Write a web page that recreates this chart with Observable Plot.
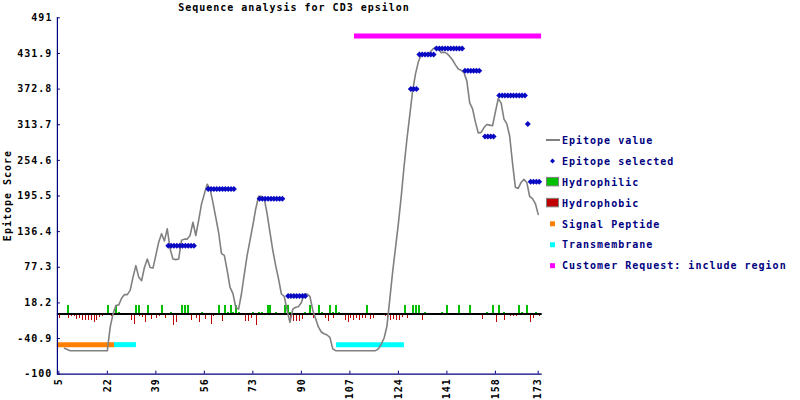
<!DOCTYPE html>
<html><head><meta charset="utf-8">
<script src="https://cdn.jsdelivr.net/npm/d3@7"></script>
<script src="https://cdn.jsdelivr.net/npm/@observablehq/plot@0.6"></script>
<style>
body{margin:0;background:#fff;}
#chart{position:relative;width:800px;height:400px;}
</style></head><body><div id="chart"></div>
<script>
// ---------- data ----------
const titleText = "Sequence analysis for CD3 epsilon";
const yLabelText = "Epitope Score";
const xTicks = [5, 22, 39, 56, 73, 90, 107, 124, 141, 158, 173];
const yTicks = [-100, -40.9, 18.2, 77.3, 136.4, 195.5, 254.6, 313.7, 372.8, 431.9, 491];
const yTickLabels = ["-100", "-40.9", "18.2", "77.3", "136.4", "195.5", "254.6", "313.7", "372.8", "431.9", "491"];

// Epitope value, residues 7..173
const lineFirstResidue = 7;
const epitopeValue = [
  -57, -59, -61, -61, -61, -61, -61, -61, -61, -61,
  -61, -61, -61, -61, -61, -61, -22, 0, 14, 15,
  26, 32, 32, 39, 61, 80, 61, 55, 77, 91,
  77, 76, 97, 119, 133, 121, 141, 108, 91, 90,
  91, 122, 124, 124, 130, 152, 130, 155, 182, 199,
  215, 207, 185, 160, 135, 100, 97, 72, 44, 34,
  11, 8, 33, 66, 97, 122, 147, 174, 195, 195,
  191, 166, 135, 105, 80, 58, 33, 29, 6, -14,
  8, 11, 12, 19, 33, 33, 29, 6, -8, -22,
  -30, -33, -35, -39, -58, -61, -61, -61, -61, -61,
  -61, -61, -61, -61, -61, -61, -61, -61, -61, -61,
  -58, -50, -40, -20, 25, 70, 110, 150, 195, 245,
  290, 330, 370, 398, 418, 430, 431, 431, 433, 439,
  442, 440, 433, 434, 432, 427, 421, 413, 406, 404,
  400, 386, 350, 340, 318, 300, 301, 309, 314, 313,
  312, 335, 357, 350, 323, 315, 295, 250, 210, 208,
  218, 223, 218, 195, 191, 183, 165
];

// Epitope selected runs
const selStart = [43, 57, 75, 85, 128, 131, 137, 147, 154, 159, 169, 170];
const selEnd   = [52, 66, 83, 91, 130, 136, 146, 152, 157, 168, 169, 173];
const selValue = [113, 207, 191, 29.5, 373, 430, 440, 403, 294, 362, 315, 219];

// Hydrophilic (green, up)
const philicRes = [8, 22, 25, 26, 32, 33, 36, 41, 44, 48, 49, 50, 55, 61, 63, 64, 65, 66, 67, 68, 73, 75, 76, 78, 79, 81, 84, 85, 86, 91, 93, 96, 97, 100, 101, 102, 103, 113, 126, 129, 130, 131, 133, 139, 141, 145, 149, 155, 157, 159, 161, 166, 167, 169, 172];
const philicVal = [14, 14, 14, 2, 14, 14, 14, 14, 2, 14, 14, 14, 2, 14, 14, 2, 14, 2, 14, 2, 2, 2, 2, 14, 14, 2, 14, 14, 2, 2, 14, 14, 2, 14, 2, 14, 2, 14, 14, 14, 14, 14, 2, 2, 14, 14, 14, 2, 14, 14, 2, 14, 2, 14, 2];

// Hydrophobic (red, down)
const phobicRes = [5, 8, 9, 10, 11, 12, 13, 14, 15, 16, 17, 18, 19, 20, 23, 26, 27, 28, 29, 30, 31, 33, 34, 35, 37, 39, 40, 42, 45, 46, 51, 53, 54, 56, 58, 59,
  60, 62, 70, 71, 72, 74, 82, 86, 87, 88, 89, 90, 94, 98, 99, 101, 105, 106, 107, 108, 109, 110, 111, 112, 114, 115, 117,
  118, 119, 120, 121, 122, 123, 124, 125, 127, 128, 132, 134, 136, 137, 138, 139, 142, 145, 150, 153, 158, 161, 163, 164, 165, 170, 171, 173];
const phobicVal = [-7, -7, -4, -4, -10, -7, -11, -11, -11, -11, -14, -11, -5.5, -4, -4, -2, -2, -2, -3, -11, -18, -4, -5.5, -14, -9, -8, -4, -8, -19, -14, -11, -8, -14, -9, -17, -4,
  -3, -13, -13, -13, -8, -19, -3, -13, -13, -13, -13, -9, -8, -8, -13, -8, -11, -14, -7, -11, -8, -11, -8, -7, -9, -8, -3,
  -3, -4, -7, -11, -9, -11, -11, -5.5, -7, -2, -11, -3, -3, -3, -3, -3, -3, -3, -3, -9, -14, -11, -4, -4, -4, -14, -8, -4];

// Regions
const regionName  = ["Signal Peptide", "Transmembrane", "Transmembrane", "Customer Request: include region"];
const regionStart = [4.5, 24.5, 102.3, 108.6];
const regionEnd   = [24.5, 32.2, 126.1, 174.2];
const regionScore = [-51, -51, -51, 461];

const legendNames = ["Epitope value", "Epitope selected", "Hydrophilic", "Hydrophobic", "Signal Peptide", "Transmembrane", "Customer Request: include region"];

// ---------- styles ----------
const C = {grey: "#808080", blue: "#0a0ac4", green: "#00c000", red: "#c00000", orange: "#ff8000", cyan: "#00ffff", magenta: "#ff00ff", navy: "#000080"};
const regionColorOf = {"Signal Peptide": C.orange, "Transmembrane": C.cyan, "Customer Request: include region": C.magenta};
const FONT = "'DejaVu Sans Mono', monospace";

// ---------- tables ----------
const lineData = epitopeValue.map((v, i) => ({r: lineFirstResidue + i, v}));
const selData = [];
selStart.forEach((s, k) => { for (let r = s; r <= selEnd[k]; r++) selData.push({r, v: selValue[k]}); });
const philData = philicRes.map((r, i) => ({r, v: philicVal[i]}));
const phobData = phobicRes.map((r, i) => ({r, v: phobicVal[i]}));
const regData = regionName.map((n, i) => ({n, s: regionStart[i], e: regionEnd[i], y: regionScore[i]}));

const W = 800, H = 400;
const mL = 56.9, mR = 258.3, mT = 17.3, mB = 26.3;
const frameW = W - mL - mR, frameH = H - mT - mB;
const xDomain = [4.5, 174.4], yDomain = [-100, 491];

const chart = Plot.plot({
  width: W, height: H,
  marginLeft: mL, marginRight: mR, marginTop: mT, marginBottom: mB,
  x: {domain: xDomain},
  y: {domain: yDomain},
  color: {type: "identity"},
  style: {fontFamily: FONT, fontSize: "10px", fontWeight: "bold", letterSpacing: "1px", color: "#000", background: "#fff", overflow: "visible"},
  marks: [
    Plot.rectY(philData, {x1: d => d.r - 0.35, x2: d => d.r + 0.35, y1: 0, y2: "v", dx: 1, fill: C.green, shapeRendering: "crispEdges"}),
    Plot.ruleX(phobData, {x: "r", y1: 0, y2: "v", dx: 1, stroke: C.red, strokeWidth: 1, shapeRendering: "crispEdges"}),
    Plot.ruleY([0], {stroke: "#000", strokeWidth: 2}),
    Plot.ruleY(regData, {x1: "s", x2: "e", y: "y", stroke: d => regionColorOf[d.n], strokeWidth: 5}),
    Plot.line(lineData, {x: "r", y: "v", stroke: C.grey, strokeWidth: 1.6}),
    Plot.dot(selData, {x: "r", y: "v", dx: 1, symbol: "diamond2", r: 2.7, fill: C.blue}),
    Plot.ruleX([xDomain[0]], {stroke: C.navy, strokeWidth: 1.2}),
    Plot.ruleY([yDomain[0]], {stroke: C.navy, strokeWidth: 1.2}),
    Plot.ruleY(yTicks, {stroke: C.navy, insetRight: frameW - 3}),
    Plot.ruleX(xTicks, {stroke: C.navy, insetTop: frameH - 3}),
    Plot.axisY({ticks: yTicks, tickSize: 0, tickPadding: 5, tickFormat: d => yTickLabels[yTicks.indexOf(d)], label: null}),
    Plot.axisX({ticks: xTicks, tickSize: 0, tickPadding: 4, tickRotate: -90, tickFormat: d => String(d), label: null})
  ]
});
document.getElementById("chart").appendChild(chart);

// ---------- title, y label, legend ----------
const svg = d3.select(chart);
const txt = svg.append("g").attr("font-family", FONT).attr("font-weight", "bold").attr("font-size", "10px").attr("letter-spacing", "1px");
txt.append("text").attr("x", 294).attr("y", 10.5).attr("text-anchor", "middle").attr("fill", "#000").text(titleText);
txt.append("text").attr("transform", "translate(10.5,195.5) rotate(-90)").attr("text-anchor", "middle").attr("fill", "#000").text(yLabelText);

const lg = txt.append("g").attr("fill", C.navy).attr("text-anchor", "start");
legendNames.forEach((name, i) => {
  const cy = 140 + 20.95 * i;
  const g = lg.append("g");
  if (i === 0) {
    g.append("line").attr("x1", 546).attr("x2", 560).attr("y1", cy).attr("y2", cy).attr("stroke", C.grey).attr("stroke-width", 2);
  } else if (i === 1) {
    g.append("path").attr("d", d3.symbol(d3.symbolDiamond2, 16)()).attr("transform", `translate(552.5,${cy})`).attr("fill", C.blue);
  } else if (i === 2 || i === 3) {
    g.append("rect").attr("x", 546.5).attr("y", cy - 4.5).attr("width", 12).attr("height", 8.5)
      .attr("fill", i === 2 ? C.green : C.red).attr("stroke", C.grey).attr("stroke-width", 1);
  } else {
    g.append("rect").attr("x", 550).attr("y", cy - 2.5).attr("width", 5).attr("height", 5)
      .attr("fill", [C.orange, C.cyan, C.magenta][i - 4]);
  }
  g.append("text").attr("x", 562).attr("y", cy + 3.7).attr("text-anchor", "start").text(name);
});
</script>
</body></html>
